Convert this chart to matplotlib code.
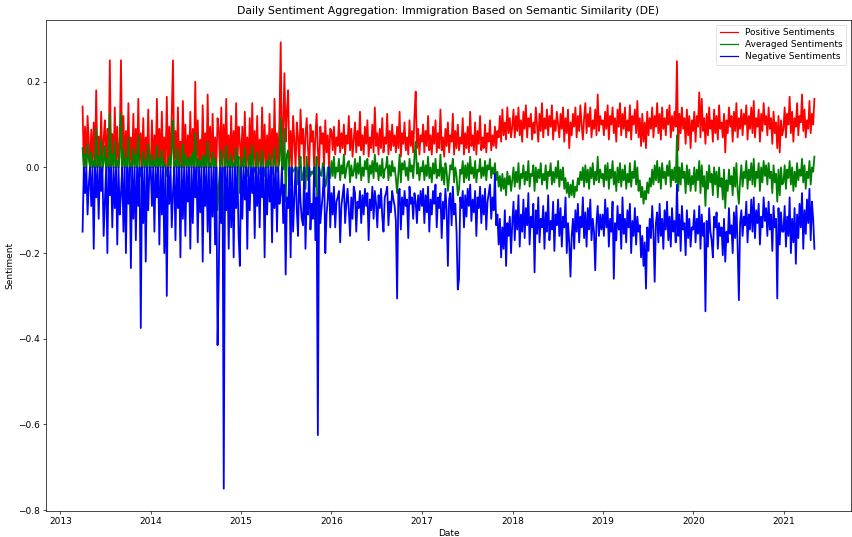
import matplotlib
matplotlib.use("Agg")
import matplotlib.pyplot as plt
import matplotlib.dates as mdates
import pandas as pd
import numpy as np

# values in thousandths, one sample every 5 days starting 2013-04-01
pos_2013 = [142,0,95,0,120,60,0,88,0,105,0,180,0,72,0,130,0,65,110,0,90,0,250,0,78,0,140,0,95,0,60,250,0,120,0,85,0,150,0,70,0,125,0,90,0,160,0,80,0,115,0,70,0,135,0]
neg_2013 = [-150,0,-60,0,-110,-40,0,-90,0,-190,0,-70,0,-120,0,-55,0,-160,-80,0,-200,0,-65,0,-140,0,-95,0,-180,0,-110,-60,0,-150,0,-200,0,-85,0,-235,0,-120,0,-170,0,-90,0,-375,0,-130,0,-220,0,-100,0]
avg_2013 = [45,0,30,0,55,20,0,35,0,15,0,90,0,25,0,65,0,10,50,0,20,0,125,0,30,0,60,0,15,0,25,125,0,40,0,20,0,70,0,10,0,45,0,30,0,75,0,-20,0,35,0,15,0,55,0]

pos_2014 = [0,110,0,75,0,160,0,90,0,130, 0,70,0,165,0,95,0,120,250,0, 85,0,140,0,60,0,155,0,100,0, 75,0,130,0,90,0,200,0,110,0,
            65,0,145,0,80,0,170,0,95,0, 125,0,70,0,115,90,0,140,0,100, 0,160,0,75,0,120,0,85,0,150, 0,95,60]
neg_2014 = [0,-90,0,-150,0,-70,0,-180,0,-110, 0,-200,0,-300,0,-85,0,-140,-60,0, -170,0,-95,0,-210,0,-120,0,-160,0, -80,0,-190,0,-130,0,-70,0,-175,0,
            -105,0,-220,0,-90,0,-150,0,-200,0, -115,0,-180,0,-415,-250,0,-130,0,-750, 0,-100,0,-190,0,-140,0,-210,0,-95, 0,-160,-230]
avg_2014 = [0,30,0,15,0,50,0,20,0,40, 0,10,0,-20,0,25,0,35,110,0, 15,0,45,0,5,0,55,0,30,0, 20,0,25,0,35,0,80,0,20,0,
            15,0,30,0,25,0,60,0,10,0, 35,0,20,0,-100,-40,0,40,0,-250, 0,50,0,15,0,30,0,10,0,45, 0,25,-60]

pos_2015 = [0,95,0,130,0,70,0,115,0,150, 0,85,0,120,0,65,0,140,0,100, 0,75,0,125,0,90,0,160,0,80, 0,110,292,0,95,220,60,130,180,0,
            85,0,120,60,0,105,70,0,135,55, 90,0,75,115,45,0,100,60,85,0, 70,125,40,0,95,55,80,0,110,35, 75,0,90]
neg_2015 = [0,-120,0,-75,0,-190,0,-100,0,-60, 0,-165,0,-90,0,-140,0,-70,0,-210, 0,-110,0,-80,0,-175,0,-95,0,-150, 0,-85,-60,0,-130,-40,-250,-70,-95,0,
            -210,0,-150,-70,0,-100,-160,0,-80,-120, -135,0,-190,-60,-110,0,-145,-85,-120,0, -170,-70,-625,0,-130,-95,-60,0,-200,-110, -75,0,-140]
avg_2015 = [0,20,0,45,0,-20,0,30,0,50, 0,-10,0,35,0,-15,0,40,0,-20, 0,15,0,30,0,-15,0,45,0,-10, 0,15,115,0,-5,90,-80,30,40,0,
            -40,0,-10,-5,0,0,-40,0,25,-30, -20,0,-50,25,-30,0,-20,-10,-15,0, -45,25,-250,0,-15,-20,10,0,-45,-35, 0,0,-25]

pos_2016 = [85,40,95,30,70,50,110,35,80,45, 100,30,75,55,120,40,90,25,65,105, 35,85,50,130,40,75,30,95,55,110, 25,70,45,100,35,140,50,80,30,90,
            45,115,35,70,55,125,30,85,40,100, 50,75,35,95,45,130,25,80,55,105, 40,70,30,110,50,85,35,120,177,45, 90,30,75]
avg_2016 = [15,-20,25,-25,0,-10,20,-30,5,-15, 30,-25,-5,10,15,-35,5,-20,-10,20, -25,10,-15,25,-30,0,-20,15,-5,20, -35,5,-15,15,-25,30,-10,10,-30,5,
            -20,20,-25,-5,0,25,-30,5,-20,15, -10,0,-25,-60,-15,30,-35,10,-5,15, -20,0,-30,20,-10,5,-25,25,60,-15, 10,-30,0]
neg_2016 = [-60,-110,-45,-140,-80,-70,-55,-175,-90,-65, -40,-130,-85,-50,-100,-160,-70,-120,-45,-60, -150,-80,-95,-55,-130,-65,-110,-50,-90,-60,
            -170,-75,-100,-45,-120,-55,-85,-140,-65,-95, -50,-115,-150,-70,-60,-45,-135,-80,-105,-55, -75,-90,-125,-306,-60,-50,-145,-70,-110,-55,
            -90,-75,-165,-45,-85,-70,-120,-60,-80,-130, -65,-100,-55]

pos_2017 = [60,100,35,85,50,120,40,75,30,95, 55,110,35,80,45,135,40,70,25,90, 50,105,35,75,60,125,30,85,45,100, 40,70,55,115,30,80,45,95,35,130,
            50,75,40,105,30,85,55,120,40,70, 45,100,35,80,60,110,40,75,50,95, 45,85,70,120,60,135,75,105,65,140, 80,115,70]
avg_2017 = [-10,15,-30,5,-20,25,-25,0,-35,10, -15,20,-25,-5,-20,30,-30,0,-40,10, -10,-55,-25,5,-5,20,-35,0,-20,-65, -50,-5,-15,15,-35,5,-25,10,-30,25,
            -15,0,-25,15,-35,-5,-10,20,-25,0, -20,15,-30,5,-5,20,-25,0,-15,10, -30,-10,-45,-20,-55,-15,-50,-25,-65,-10, -40,-20,-55]
neg_2017 = [-90,-50,-130,-65,-105,-45,-150,-75,-110,-55, -85,-40,-140,-70,-95,-60,-165,-80,-120,-50, -100,-230,-75,-60,-135,-45,-110,-85,-150,-285,
            -260,-70,-95,-55,-140,-65,-115,-50,-90,-40, -125,-75,-105,-55,-160,-70,-95,-45,-130,-65, -110,-50,-145,-80,-60,-40,-120,-70,-100,-15,
            -135,-110,-180,-120,-210,-140,-190,-100,-230,-130, -160,-115,-200]

pos_2018 = [95,135,70,120,85,140,75,110,60,130, 90,145,70,115,95,125,65,105,80,140, 100,60,125,85,150,70,115,90,135,75, 120,95,145,65,110,85,130,100,70,125,
            90,140,60,115,80,135,45,105,75,125, 95,140,70,120,85,145,100,65,115,150, 80,125,95,140,70,110,90,135,75,170, 85,120,100]
avg_2018 = [-30,0,-45,-10,-35,10,-50,-15,-25,5, -40,-10,-30,15,-45,-15,-20,5,-55,0, -35,-5,-25,10,-40,-15,-30,5,-50,-10, -20,10,-40,-10,-35,0,-25,15,-45,-5,
            -30,0,-50,-25,-60,-35,-70,-40,-65,-30, -70,-45,-55,-25,-40,-10,-30,0,-45,5, -35,-5,-50,0,-25,10,-40,-10,-30,25, -35,-5,-25]
neg_2018 = [-130,-80,-170,-100,-145,-65,-185,-110,-150,-75, -165,-95,-135,-60,-180,-115,-140,-85,-245,-100, -155,-70,-175,-120,-140,-90,-190,-105,-150,-65,
            -170,-125,-145,-80,-195,-110,-135,-75,-160,-95, -185,-115,-140,-70,-200,-130,-175,-255,-160,-120, -190,-100,-150,-85,-175,-115,-140,-70,-165,-105,
            -185,-95,-145,-75,-170,-120,-150,-240,-130,-90, -160,-110,-145]

pos_2019 = [110,75,130,90,145,65,120,100,140,80, 115,60,135,95,150,75,125,90,140,70, 110,85,145,65,120,100,135,80,155,70, 115,50,125,60,105,45,130,75,115,90,
            140,70,120,95,150,80,125,65,140,90, 115,75,135,100,145,70,120,85,130,95, 248,40,125,80,140,90,115,55,135,75, 120,45,110]
avg_2019 = [-15,-45,5,-30,10,-50,-5,-25,15,-40, -10,-55,0,-35,10,-45,-5,-30,5,-50, -15,-35,10,-45,-10,-25,15,-40,0,-55, -30,-70,-45,-85,-55,-75,-35,-60,-25,-45,
            -5,-40,5,-30,15,-35,0,-50,10,-25, -10,-40,5,-20,15,-45,-5,-30,0,-35, 75,-55,0,-40,10,-25,-10,-60,5,-40, -5,-55,-20]
neg_2019 = [-110,-160,-75,-140,-95,-185,-120,-150,-80,-260, -130,-170,-90,-145,-110,-190,-70,-155,-120,-175, -100,-140,-85,-200,-125,-160,-95,-180,-115,-150,
            -135,-210,-160,-230,-175,-283,-140,-195,-120,-165, -90,-150,-267,-130,-105,-175,-85,-160,-120,-190, -100,-145,-80,-170,-115,-185,-95,-150,-125,-175,
            -40,-160,-110,-195,-90,-145,-130,-205,-100,-165, -120,-185,-140]

pos_2020 = [85,130,60,120,95,175,70,160,85,115, 55,125,75,140,90,110,60,135,80,120, 65,145,90,105,70,125,35,110,80,140, 95,120,60,130,85,150,70,115,90,135,
            75,125,100,145,65,120,90,140,80,155, 70,115,95,135,60,125,85,150,100,120, 75,140,90,115,55,130,80,105,45,120, 35,110,75]
avg_2020 = [-40,0,-55,-5,-30,15,-60,5,-45,-20, -90,-10,-50,5,-35,-15,-65,0,-40,-10, -70,0,-45,-25,-75,-5,-95,-30,-55,-5, -40,-20,-65,0,-45,10,-55,-85,-30,5,
            -45,-10,-25,15,-50,-5,-30,10,-40,20, -45,-10,-25,10,-55,0,-35,15,-20,5, -40,10,-25,-10,-60,5,-35,-15,-80,-5, -65,0,-40]
neg_2020 = [-145,-100,-175,-120,-155,-90,-190,-110,-160,-130, -336,-125,-185,-95,-150,-170,-210,-115,-140,-105, -190,-130,-160,-140,-205,-120,-220,-150,-175,-95,
            -155,-135,-200,-105,-165,-90,-185,-310,-130,-100, -160,-115,-135,-80,-175,-110,-145,-75,-150,-70, -165,-100,-130,-85,-180,-115,-140,-70,-125,-95,
            -160,-80,-145,-110,-195,-90,-140,-120,-306,-95, -180,-105,-150]

pos_2021 = [90,140,70,125,100,165,80,130,60,115, 95,150,75,120,105,170,85,135,70,110, 90,155,80,125,100,160]
avg_2021 = [-35,5,-50,-5,-25,15,-40,0,-55,-10, -45,10,-30,-5,-20,20,-35,5,-50,-10, -25,15,-40,0,-10,25]
neg_2021 = [-150,-90,-185,-115,-160,-70,-200,-120,-175,-95, -225,-110,-165,-85,-140,-60,-190,-100,-155,-75, -130,-50,-170,-80,-120,-190]

start_date = "2013-04-01"
step = "5D"

pos = np.array(pos_2013 + pos_2014 + pos_2015 + pos_2016 + pos_2017 + pos_2018 + pos_2019 + pos_2020 + pos_2021) / 1000.0
avg = np.array(avg_2013 + avg_2014 + avg_2015 + avg_2016 + avg_2017 + avg_2018 + avg_2019 + avg_2020 + avg_2021) / 1000.0
neg = np.array(neg_2013 + neg_2014 + neg_2015 + neg_2016 + neg_2017 + neg_2018 + neg_2019 + neg_2020 + neg_2021) / 1000.0
n = min(len(pos), len(avg), len(neg))
dates = pd.date_range(start_date, periods=n, freq=step)

fs = 6.5
fig = plt.figure(figsize=(8.52, 5.37), dpi=100)
ax = fig.add_axes([46/852, 1 - 511/537, (851 - 46)/852, (511 - 20)/537])
lw = 1.3
ax.plot(dates, pos[:n], color="red", lw=lw, label="Positive Sentiments")
ax.plot(dates, avg[:n], color="green", lw=lw, label="Averaged Sentiments")
ax.plot(dates, neg[:n], color="blue", lw=lw, label="Negative Sentiments")

ax.xaxis.set_major_locator(mdates.YearLocator())
ax.xaxis.set_major_formatter(mdates.DateFormatter("%Y"))
ax.set_yticks([-0.8, -0.6, -0.4, -0.2, 0.0, 0.2])
ax.tick_params(labelsize=fs, length=2.2, width=0.5, pad=2)
for s in ax.spines.values():
    s.set_linewidth(0.5)
ax.set_title("Daily Sentiment Aggregation: Immigration Based on Semantic Similarity (DE)", fontsize=7.85, pad=4)
ax.set_xlabel("Date", fontsize=fs, labelpad=2)
ax.set_ylabel("Sentiment", fontsize=fs, labelpad=3)
leg = ax.legend(loc="upper right", fontsize=fs, handlelength=2.0, borderpad=0.4, labelspacing=0.35)
leg.get_frame().set_linewidth(0.5)
for h in leg.get_lines():
    h.set_linewidth(0.9)

fig.savefig("out.png", dpi=100)
